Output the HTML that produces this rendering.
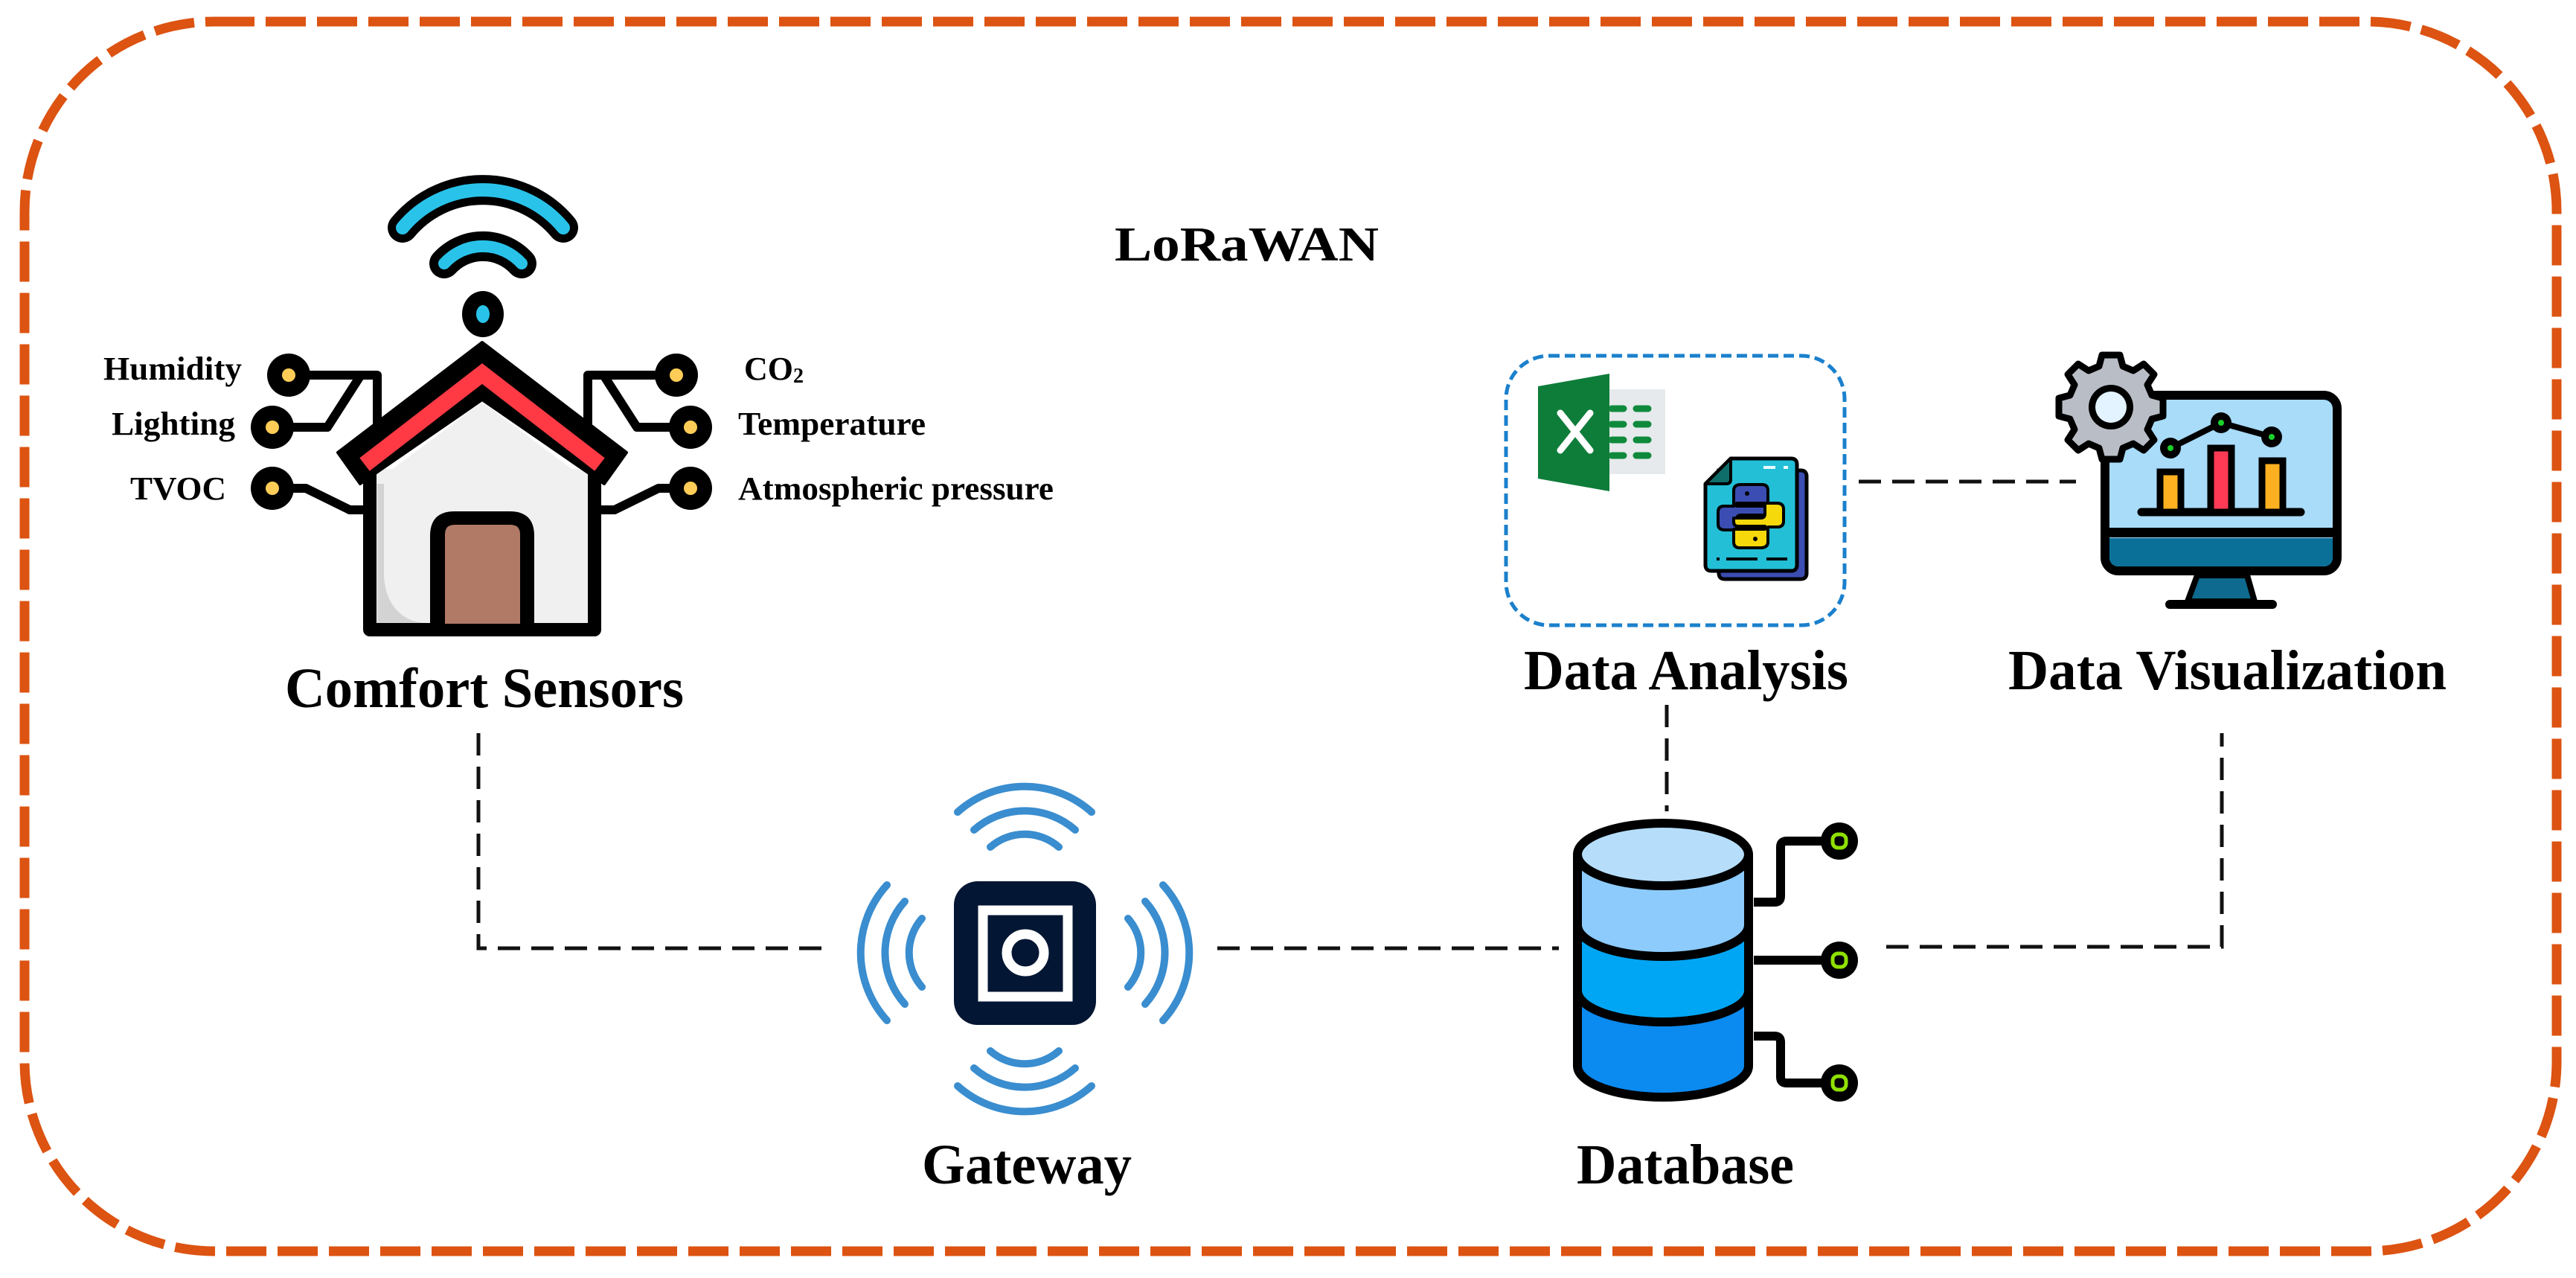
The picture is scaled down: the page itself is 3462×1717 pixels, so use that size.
<!DOCTYPE html>
<html><head><meta charset="utf-8"><style>
html,body{margin:0;padding:0;background:#fff;}
svg{display:block;}
text{font-family:"Liberation Serif",serif;font-weight:bold;fill:#000;}
</style></head><body>
<svg width="3462" height="1717" viewBox="0 0 3462 1717" xmlns="http://www.w3.org/2000/svg">
<rect x="33" y="29" width="3403" height="1652" rx="255" ry="255" fill="none" stroke="#dc5312" stroke-width="13" stroke-dasharray="54 15"/>

<g fill="none" stroke="#111" stroke-width="5" stroke-dasharray="30 15">
<path d="M643,985 V1274 H1104"/>
<path d="M1636,1274 H2095"/>
<path d="M2240,947 V1090"/>
<path d="M2535,1272 H2986 V985"/>
<path d="M2498,647 H2790"/>
</g>

<text x="1498" y="350" font-size="66" textLength="355" lengthAdjust="spacingAndGlyphs">LoRaWAN</text>

<g fill="none" stroke-linecap="round">
<path d="M541,306 A140,140 0 0 1 757,306" stroke="#000" stroke-width="40"/>
<path d="M541,306 A140,140 0 0 1 757,306" stroke="#29c3ea" stroke-width="18"/>
<path d="M597,354 A70,70 0 0 1 701,354" stroke="#000" stroke-width="40"/>
<path d="M597,354 A70,70 0 0 1 701,354" stroke="#29c3ea" stroke-width="16"/>
</g>
<ellipse cx="649" cy="422" rx="28" ry="31" fill="#000"/>
<ellipse cx="649" cy="422" rx="9" ry="12" fill="#29c3ea"/>

<g fill="none" stroke="#000" stroke-width="12" stroke-linejoin="round">
<path d="M388,504 H507 V580"/>
<path d="M366,574 H440 L483,507"/>
<path d="M366,656 H411 L470,685 H490"/>
<path d="M909,504 H790 V580"/>
<path d="M928,574 H856 L813,507"/>
<path d="M928,656 H885 L826,685 H806"/>
</g>
<g fill="#000">
<circle cx="388" cy="504" r="29"/><circle cx="366" cy="574" r="29"/><circle cx="366" cy="656" r="29"/>
<circle cx="909" cy="504" r="29"/><circle cx="928" cy="574" r="29"/><circle cx="928" cy="656" r="29"/>
</g>
<g fill="#ffcd57">
<circle cx="388" cy="504" r="9"/><circle cx="366" cy="574" r="9"/><circle cx="366" cy="656" r="9"/>
<circle cx="909" cy="504" r="9"/><circle cx="928" cy="574" r="9"/><circle cx="928" cy="656" r="9"/>
</g>

<rect x="497" y="630" width="302" height="216" fill="#f0f0f0"/>
<polygon points="648,540 795,650 501,650" fill="#f0f0f0"/>
<path d="M507,650 V837 H575 C535,837 516,805 516,770 V650 Z" fill="#d3d3d3"/>
<path d="M497,625 V846 H799 V625" fill="none" stroke="#000" stroke-width="18" stroke-linejoin="round"/>
<polygon points="648,460 842,608 812,650 648,537 484,650 454,608" fill="#000" stroke="#000" stroke-width="4" stroke-linejoin="round"/>
<polyline points="490,624 648,502 806,624" fill="none" stroke="#ff3a45" stroke-width="22"/>
<path d="M578,846 V720 Q578,687 611,687 H685 Q718,687 718,720 V846 Z" fill="#000"/>
<path d="M598,838 V718 Q598,705 611,705 H686 Q699,705 699,718 V838 Z" fill="#b07a66"/>

<g font-size="44">
<text x="139" y="510" textLength="186" lengthAdjust="spacingAndGlyphs">Humidity</text>
<text x="150" y="584" textLength="166" lengthAdjust="spacingAndGlyphs">Lighting</text>
<text x="175" y="671" textLength="129" lengthAdjust="spacingAndGlyphs">TVOC</text>
<text x="1000" y="510">CO<tspan font-size="28" dy="4">2</tspan></text>
<text x="992" y="584" textLength="252" lengthAdjust="spacingAndGlyphs">Temperature</text>
<text x="992" y="671" textLength="424" lengthAdjust="spacingAndGlyphs">Atmospheric pressure</text>
</g>
<text x="383" y="950" font-size="76" textLength="536" lengthAdjust="spacingAndGlyphs">Comfort Sensors</text>

<rect x="2024" y="478" width="455" height="362" rx="58" ry="58" fill="none" stroke="#1b80cc" stroke-width="5" stroke-dasharray="14 7"/>
<rect x="2163" y="523" width="75" height="114" fill="#e6eaec"/>
<g stroke="#0f8a3c" stroke-width="9" stroke-linecap="round">
<line x1="2166" y1="549" x2="2182" y2="549"/><line x1="2199" y1="549" x2="2215" y2="549"/>
<line x1="2166" y1="570" x2="2182" y2="570"/><line x1="2199" y1="570" x2="2215" y2="570"/>
<line x1="2166" y1="591" x2="2182" y2="591"/><line x1="2199" y1="591" x2="2215" y2="591"/>
<line x1="2166" y1="612" x2="2182" y2="612"/><line x1="2199" y1="612" x2="2215" y2="612"/>
</g>
<polygon points="2067,519 2163,502 2163,660 2067,643" fill="#0f7d3a"/>
<g stroke="#fff" stroke-width="9" stroke-linecap="round">
<line x1="2097" y1="555" x2="2137" y2="605"/><line x1="2137" y1="555" x2="2097" y2="605"/>
</g>
<path d="M2310,632 H2420 Q2428,632 2428,640 V770 Q2428,778 2420,778 H2318 Q2310,778 2310,770 Z" fill="#3b4db3" stroke="#000" stroke-width="5"/>
<path d="M2326,616 H2407 Q2415,616 2415,624 V759 Q2415,767 2407,767 H2300 Q2292,767 2292,759 V650 Z" fill="#22bfd6" stroke="#000" stroke-width="5" stroke-linejoin="round"/>
<path d="M2292,650 L2326,616 V644 Q2326,650 2320,650 Z" fill="#0e6e6a" stroke="#000" stroke-width="4" stroke-linejoin="round"/>
<g stroke="#e8fbff" stroke-width="4"><line x1="2370" y1="628" x2="2386" y2="628"/><line x1="2397" y1="628" x2="2403" y2="628"/></g>
<g stroke="#000" stroke-width="4"><line x1="2307" y1="751" x2="2311" y2="751"/><line x1="2320" y1="751" x2="2362" y2="751"/><line x1="2374" y1="751" x2="2402" y2="751"/></g>
<path d="M2340,651 H2368 Q2376,651 2376,659 V676 H2334 V680 H2370 Q2376,680 2376,686 V692 H2340 Q2334,692 2334,698 V712 H2318 Q2309,712 2309,704 V688 Q2309,680 2317,680 H2330 V659 Q2330,651 2340,651 Z" fill="#3b4db3" stroke="#000" stroke-width="4" stroke-linejoin="round"/>
<path d="M2366,736 H2338 Q2330,736 2330,728 V711 H2372 V707 H2336 Q2330,707 2330,701 V696 H2366 Q2372,696 2372,690 V676 H2388 Q2397,676 2397,684 V700 Q2397,708 2389,708 H2376 V728 Q2376,736 2366,736 Z" fill="#f5d90a" stroke="#000" stroke-width="4" stroke-linejoin="round"/>
<circle cx="2348" cy="663" r="3" fill="#000"/><circle cx="2359" cy="724" r="3" fill="#000"/>

<rect x="2829" y="531" width="312" height="236" rx="18" ry="18" fill="#a8dcf9" stroke="#000" stroke-width="12"/>
<path d="M2835,723 H3135 V748 Q3135,761 3122,761 H2848 Q2835,761 2835,748 Z" fill="#0a7098"/>
<rect x="2835" y="709" width="300" height="13" fill="#000"/>
<polygon points="2953,773 3020,773 3030,808 2940,808" fill="#0e6a8e" stroke="#000" stroke-width="8" stroke-linejoin="round"/>
<rect x="2910" y="806" width="150" height="12" rx="6" fill="#000"/>
<line x1="2878" y1="688" x2="3092" y2="688" stroke="#000" stroke-width="11" stroke-linecap="round"/>
<g stroke="#000" stroke-width="9">
<rect x="2903" y="634" width="28" height="54" fill="#ffb020"/>
<rect x="2971" y="602" width="28" height="86" fill="#ff3a55"/>
<rect x="3040" y="619" width="28" height="69" fill="#ffb020"/>
</g>
<polyline points="2917,602 2985,568 3053,587" fill="none" stroke="#000" stroke-width="8"/>
<g fill="#000"><circle cx="2917" cy="602" r="14"/><circle cx="2985" cy="568" r="14"/><circle cx="3053" cy="587" r="14"/></g>
<g fill="#1bd12b"><circle cx="2917" cy="602" r="4"/><circle cx="2985" cy="568" r="4"/><circle cx="3053" cy="587" r="4"/></g>
<g transform="translate(2837,547)">
<g fill="#b9bec6" stroke="#000" stroke-width="9" stroke-linejoin="round">
<path d="M-12,-70 H12 L16,-55 L30,-49 L44,-58 L58,-44 L49,-30 L55,-16 L70,-12 V12 L55,16 L49,30 L58,44 L44,58 L30,49 L16,55 L12,70 H-12 L-16,55 L-30,49 L-44,58 L-58,44 L-49,30 L-55,16 L-70,12 V-12 L-55,-16 L-49,-30 L-58,-44 L-44,-58 L-30,-49 L-16,-55 Z"/>
</g>
<circle r="30" fill="#000"/>
<circle r="21" fill="#e3f3ff"/>
</g>
<text x="2048" y="926" font-size="76" textLength="436" lengthAdjust="spacingAndGlyphs">Data Analysis</text>
<text x="2699" y="926" font-size="76" textLength="589" lengthAdjust="spacingAndGlyphs">Data Visualization</text>

<rect x="1282" y="1184" width="191" height="193" rx="32" ry="32" fill="#031633"/>
<rect x="1321" y="1223" width="114" height="116" fill="none" stroke="#fff" stroke-width="13"/>
<circle cx="1378" cy="1280" r="25" fill="none" stroke="#fff" stroke-width="13"/>
<g fill="none" stroke="#3a8dcf" stroke-width="10" stroke-linecap="round">
<path d="M1287,1091 A135,135 0 0 1 1467,1091"/>
<path d="M1309,1115 A103,103 0 0 1 1445,1115"/>
<path d="M1331,1138 A70,70 0 0 1 1423,1138"/>
<path d="M1287,1459 A135,135 0 0 0 1467,1459"/>
<path d="M1309,1435 A103,103 0 0 0 1445,1435"/>
<path d="M1331,1412 A70,70 0 0 0 1423,1412"/>
<path d="M1192,1189 A135,135 0 0 0 1192,1371"/>
<path d="M1216,1211 A103,103 0 0 0 1216,1349"/>
<path d="M1239,1234 A70,70 0 0 0 1239,1326"/>
<path d="M1563,1189 A135,135 0 0 1 1563,1371"/>
<path d="M1539,1211 A103,103 0 0 1 1539,1349"/>
<path d="M1516,1234 A70,70 0 0 1 1516,1326"/>
</g>
<text x="1239" y="1590" font-size="76" textLength="282" lengthAdjust="spacingAndGlyphs">Gateway</text>

<g fill="none" stroke="#000" stroke-width="12" stroke-linejoin="round">
<path d="M2357,1212 H2385 Q2393,1212 2393,1204 V1138 Q2393,1130 2401,1130 H2472"/>
<path d="M2357,1290 H2472"/>
<path d="M2357,1392 H2385 Q2393,1392 2393,1400 V1447 Q2393,1455 2401,1455 H2472"/>
</g>
<g fill="#000"><circle cx="2472" cy="1130" r="25"/><circle cx="2472" cy="1290" r="25"/><circle cx="2472" cy="1455" r="25"/></g>
<g fill="none" stroke="#8fe000" stroke-width="5"><rect x="2463" y="1121" width="18" height="18" rx="7"/><rect x="2463" y="1281" width="18" height="18" rx="7"/><rect x="2463" y="1446" width="18" height="18" rx="7"/></g>
<path d="M2120,1148 V1432 A115,42 0 0 0 2350,1432 V1148 Z" fill="#0b8af0"/>
<path d="M2120,1148 V1331 A115,42 0 0 0 2350,1331 V1148 Z" fill="#00a6f4"/>
<path d="M2120,1148 V1243 A115,42 0 0 0 2350,1243 V1148 Z" fill="#8ccbfc"/>
<ellipse cx="2235" cy="1148" rx="115" ry="42" fill="#b6defb"/>
<g fill="none" stroke="#000" stroke-width="12">
<path d="M2120,1148 V1432 A115,42 0 0 0 2350,1432 V1148"/>
<ellipse cx="2235" cy="1148" rx="115" ry="42"/>
<path d="M2120,1243 A115,42 0 0 0 2350,1243"/>
<path d="M2120,1331 A115,42 0 0 0 2350,1331"/>
</g>
<text x="2119" y="1590" font-size="76" textLength="292" lengthAdjust="spacingAndGlyphs">Database</text>
</svg>
</body></html>
